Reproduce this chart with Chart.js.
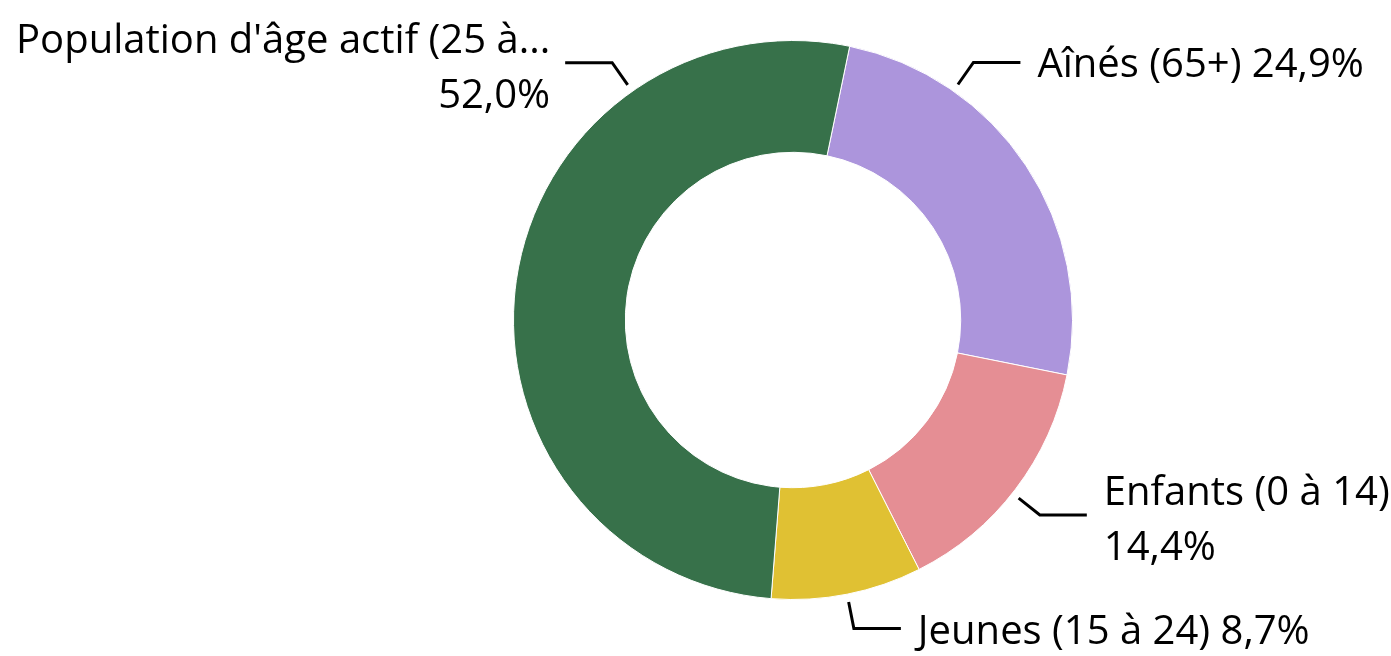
<!DOCTYPE html>
<html>
<head>
<meta charset="utf-8">
<script src="https://cdn.jsdelivr.net/npm/chart.js@4"></script>
<style>
  html, body { margin: 0; padding: 0; background: #fff; }
  #wrap { width: 1391px; height: 656px; }
</style>
</head>
<body>
<div id="wrap"><canvas id="graficoAge"></canvas></div>
<script>
const categories = ['Aînés (65+)', 'Enfants (0 à 14)', 'Jeunes (15 à 24)', "Population d'âge actif (25 à..."];
const valores = [24.9, 14.4, 8.7, 52.0];
const cores = ['#AC95DC', '#E58E94', '#E0C133', '#37714A'];

// onde a linha de chamada sai de cada fatia (fração do arco)
const ancoras = [0.26, 0.52, 0.5, 0.75];

const FONTE = '40px "Open Sans", "Noto Sans", sans-serif';

function formatarPct(v) {
    return v.toFixed(1).replace('.', ',') + '%';
}

const rotulosExternos = {
    id: 'rotulosExternos',
    afterDraw(chart) {
        const ctx = chart.ctx;
        const meta = chart.getDatasetMeta(0);
        ctx.save();
        ctx.font = FONTE;
        ctx.fillStyle = '#000';
        ctx.strokeStyle = '#000';
        ctx.lineWidth = 3;
        ctx.lineJoin = 'miter';

        meta.data.forEach((arc, i) => {
            const { x, y, startAngle, endAngle, outerRadius } = arc.getProps(['x', 'y', 'startAngle', 'endAngle', 'outerRadius'], true);
            const a = startAngle + ancoras[i] * (endAngle - startAngle);
            const cos = Math.cos(a), sin = Math.sin(a);
            const direita = cos >= 0;
            const p1 = { x: x + (outerRadius + 8) * cos, y: y + (outerRadius + 8) * sin };
            const p2 = { x: x + (outerRadius + 35) * cos, y: y + (outerRadius + 35) * sin };
            const p3 = { x: p2.x + (direita ? 47 : -47), y: p2.y };

            ctx.beginPath();
            ctx.moveTo(p1.x, p1.y);
            ctx.lineTo(p2.x, p2.y);
            ctx.lineTo(p3.x, p3.y);
            ctx.stroke();

            const tx = p3.x + (direita ? 17 : -15);
            const pct = formatarPct(valores[i]);
            const inteiro = categories[i] + ' ' + pct;
            const espaco = direita ? chart.width - tx - 4 : tx - 4;
            ctx.textAlign = direita ? 'left' : 'right';
            ctx.textBaseline = 'alphabetic';

            if (ctx.measureText(inteiro).width <= espaco) {
                ctx.fillText(inteiro, tx, p3.y + 15);
            } else {
                ctx.fillText(categories[i], tx, p3.y - 10);
                ctx.fillText(pct, tx, p3.y + 45);
            }
        });
        ctx.restore();
    }
};

new Chart(document.getElementById('graficoAge').getContext('2d'), {
    type: 'doughnut',
    data: {
        labels: categories,
        datasets: [{
            data: valores,
            backgroundColor: cores,
            borderColor: '#fff',
            borderWidth: 1
        }]
    },
    options: {
        responsive: true,
        maintainAspectRatio: false,
        animation: false,
        rotation: 11.7,
        cutout: '60%',
        layout: { padding: { top: 40, bottom: 56, left: 513, right: 318 } },
        plugins: {
            legend: { display: false },
            tooltip: { enabled: false }
        }
    },
    plugins: [rotulosExternos]
});
</script>
</body>
</html>
